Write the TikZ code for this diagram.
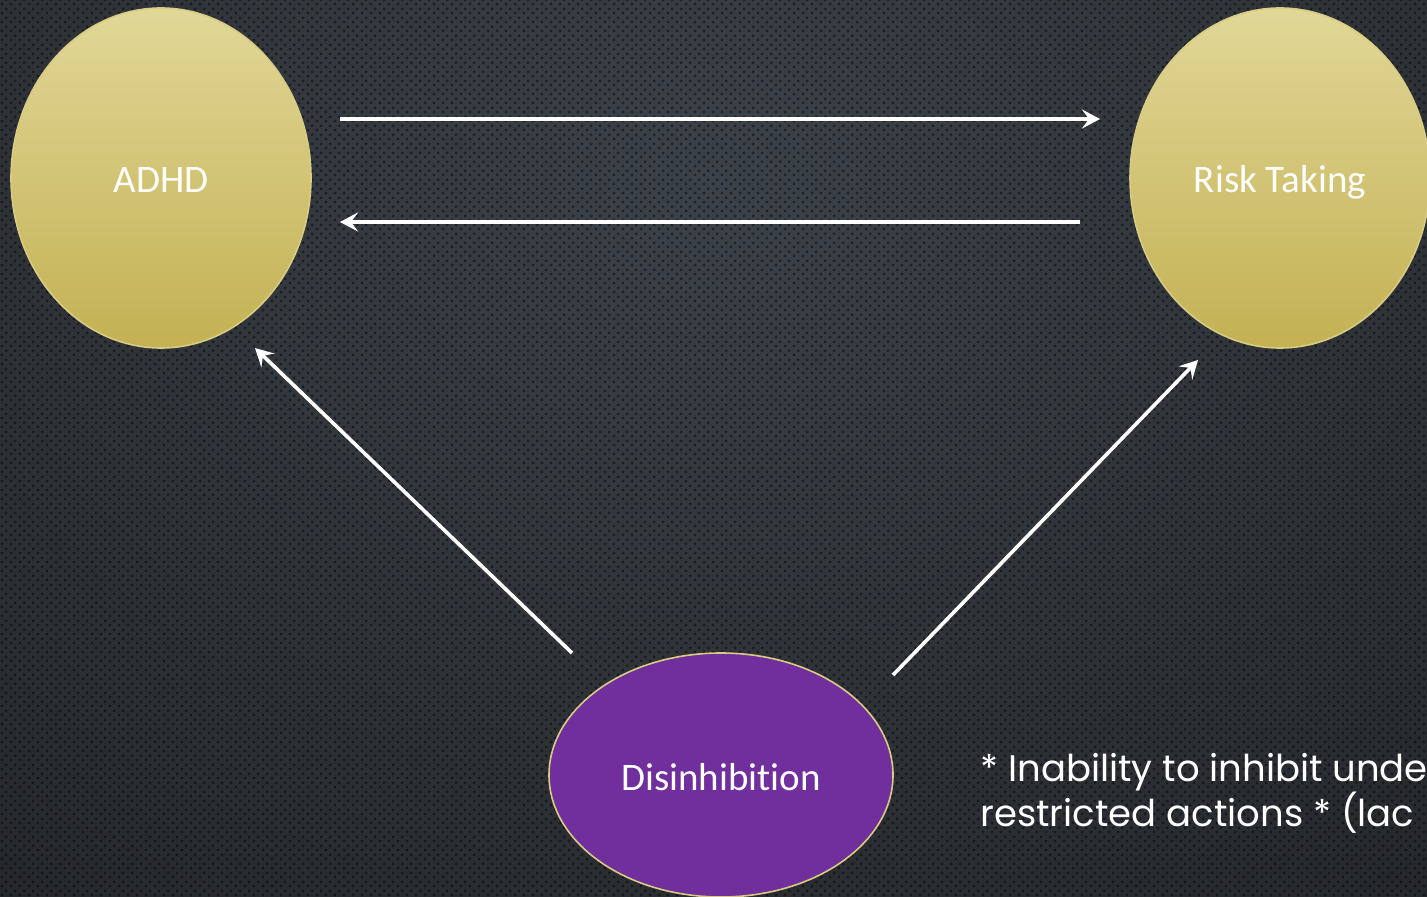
\documentclass[tikz,border=0pt]{standalone}
\usepackage{fontspec}
\setmainfont{Carlito}[Ligatures=CommonOff]
\newfontfamily\notefont{Poppins}
\usetikzlibrary{shapes.geometric, positioning, arrows.meta, patterns}
\definecolor{bglight}{HTML}{3C4249}
\definecolor{bgdark}{HTML}{1B1C1E}
\definecolor{goldtop}{HTML}{E1D797}
\definecolor{goldbot}{HTML}{C3B153}
\definecolor{goldedge}{HTML}{D8CC84}
\definecolor{violet}{HTML}{702F9C}
\pgfdeclarepatternformonly{dotmesh}{\pgfpointorigin}{\pgfpoint{4.3pt}{4.3pt}}{\pgfpoint{4.3pt}{4.3pt}}{%
  \pgfpathcircle{\pgfpoint{1.075pt}{1.075pt}}{0.85pt}%
  \pgfpathcircle{\pgfpoint{3.225pt}{3.225pt}}{0.85pt}%
  \pgfusepath{fill}}
\tikzset{
  factor/.style={ellipse, draw=goldedge, line width=0.8pt, top color=goldtop, bottom color=goldbot, minimum width=150pt, minimum height=170pt, inner sep=0pt, text=white, text height=16pt, text depth=1pt, font=\fontsize{19.5}{23}\selectfont},
  trait/.style={ellipse, draw=goldedge, line width=0.8pt, fill=violet, minimum width=172pt, minimum height=122pt, inner sep=0pt, text=white, text height=16pt, text depth=1pt, font=\fontsize{19.5}{23}\selectfont},
  link/.style={-{Stealth[length=9pt, width=9.5pt, inset=3.5pt]}, white, line width=1.8pt}
}
\begin{document}
\begin{tikzpicture}[x=0.5pt, y=-0.5pt]
  \useasboundingbox (0,0) rectangle (1427,897);
  \begin{scope}
    \clip (0,0) rectangle (1427,897);
    % background
    \shade[shading=radial, inner color=bglight, outer color=bgdark] (713,180) ellipse (1700 and 1300);
    \fill[pattern=dotmesh, pattern color=black, opacity=0.45] (0,0) rectangle (1427,897);

    % ADHD
    \node[factor] (adhd) at (161,178) {ADHD};

    % Risk Taking
    \node[factor] (risk) at (1280,178) {Risk Taking};

    % Disinhibition
    \node[trait] (disinh) at (721,775) {Disinhibition};

    % note
    \node[anchor=base west, align=left, text=white, inner sep=0pt,
          font=\notefont\fontsize{18.5}{22.5}\selectfont] (note) at (980,826)
      {* Inability to inhibit unde\\restricted actions * (lac};

    % end points of the arrows
    \coordinate (adhd-out) at (340,119);
    \coordinate (risk-in) at (1100,119);
    \coordinate (risk-out) at (1080,222);
    \coordinate (adhd-in) at (340,222);
    \coordinate (dis-left) at (572,653);
    \coordinate (adhd-low) at (255,348);
    \coordinate (dis-right) at (893,675);
    \coordinate (risk-low) at (1198,360);

    % arrows
    \draw[link] (adhd-out) -- (risk-in);
    \draw[link] (risk-out) -- (adhd-in);
    \draw[link] (dis-left) -- (adhd-low);
    \draw[link] (dis-right) -- (risk-low);
  \end{scope}
\end{tikzpicture}
\end{document}
